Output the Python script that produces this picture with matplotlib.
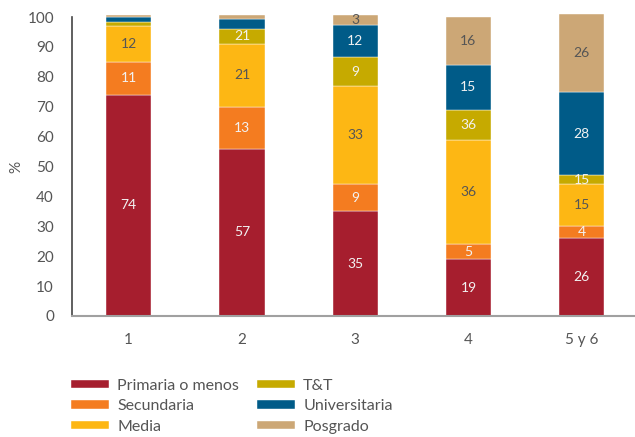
import matplotlib.pyplot as plt
import numpy as np

plt.rcParams['font.family'] = ['Lato', 'DejaVu Sans']

categorias = ['1', '2', '3', '4', '5 y 6']
series = ['Primaria o menos', 'Secundaria', 'Media', 'T&T', 'Universitaria', 'Posgrado']
colores = ['#A61E2E', '#F47C20', '#FDB714', '#C6AA00', '#005B88', '#CCA776']
color_texto = ['#f2f2f2', '#f2f2f2', '#555555', '#f2f2f2', '#f2f2f2', '#555555']

# altura de cada tramo
primaria = [74, 56, 35, 19, 26]
secundaria = [11, 14, 9, 5, 4]
media = [12, 21, 33, 35, 14]
tyt = [1.5, 5, 9.5, 10, 3]
universitaria = [1.5, 3.3, 11, 15, 28]
posgrado = [0.7, 1.3, 3.3, 16, 26]

# etiquetas impresas en cada tramo ('' = sin etiqueta)
et_primaria = ['74', '57', '35', '19', '26']
et_secundaria = ['11', '13', '9', '5', '4']
et_media = ['12', '21', '33', '36', '15']
et_tyt = ['', '21', '9', '36', '15']
et_universitaria = ['', '', '12', '15', '28']
et_posgrado = ['', '', '3', '16', '26']

valores = [primaria, secundaria, media, tyt, universitaria, posgrado]
etiquetas = [et_primaria, et_secundaria, et_media, et_tyt, et_universitaria, et_posgrado]

fig = plt.figure(figsize=(6.35, 4.37), dpi=100)
ax = fig.add_axes([0.1134, 0.277, 0.8866, 0.684])

x = np.arange(len(categorias))
base = np.zeros(len(categorias))
for serie, vals, labs, col, tcol in zip(series, valores, etiquetas, colores, color_texto):
    vals = np.array(vals, dtype=float)
    ax.bar(x, vals, 0.4, bottom=base, color=col, label=serie,
           edgecolor='#ffffff', linewidth=0.3, clip_on=False)
    for xi, b, v, t in zip(x, base, vals, labs):
        if t:
            ax.text(xi, b + v / 2, t, ha='center', va='center',
                    fontsize=10, color=tcol)
    base += vals

ax.set_xlim(-0.5, 4.47)
ax.set_ylim(0, 100)
ax.set_yticks(range(0, 101, 10))
ax.set_xticks(x)
ax.set_xticklabels(categorias)
ax.tick_params(axis='both', length=0, labelsize=11, labelcolor='#555555')
ax.tick_params(axis='x', pad=12)
ax.tick_params(axis='y', pad=13)
ax.set_ylabel('%', fontsize=11, color='#555555')
ax.yaxis.set_label_coords(-0.086, 0.5)

for s in ['top', 'right']:
    ax.spines[s].set_visible(False)
ax.spines['left'].set_color('#444444')
ax.spines['left'].set_linewidth(1.2)
ax.spines['bottom'].set_color('#a0a0a0')
ax.spines['bottom'].set_linewidth(1.5)

fig.legend(loc='upper left', bbox_to_anchor=(0.112, 0.133), ncol=2, frameon=False,
           fontsize=11.5, handlelength=2.4, handleheight=0.45, handletextpad=0.5,
           columnspacing=1.1, labelspacing=0.4, labelcolor='#555555',
           borderaxespad=0, borderpad=0)

fig.savefig('out.png', dpi=100)
